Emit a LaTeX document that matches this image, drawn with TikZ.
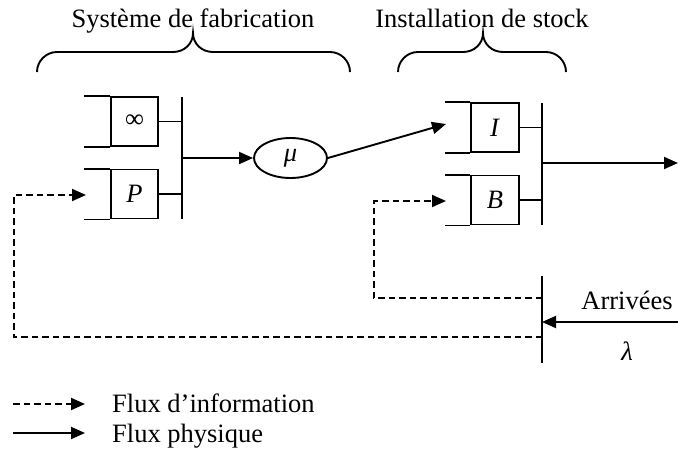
\documentclass[tikz,border=0pt]{standalone}
\usepackage{fontspec}
\setmainfont{Liberation Serif}
\usetikzlibrary{arrows.meta,shapes.geometric}
\begin{document}
\begin{tikzpicture}[x=1pt,y=-1pt,
  font=\fontsize{26.5}{30}\selectfont,
  ln/.style={line width=1.9pt},
  box/.style={draw,ln,minimum width=47pt,minimum height=49pt,inner sep=0pt},
  tip/.style={-{Triangle[length=14pt,width=12pt]}},
  info/.style={ln,dash pattern=on 6.5pt off 4pt},
  lbl/.style={anchor=base,inner sep=0pt}]
\useasboundingbox (0,0) rectangle (678,453);

% titles and braces
\node[lbl] (tfab) at (193,27) {Système de fabrication};
\node[lbl] (tsto) at (482,27) {Installation de stock};
\draw[ln] (37,72) .. controls (37,61) and (46,52) .. (57,52) -- (173,52)
  .. controls (184,52) and (193,44) .. (193,33)
  .. controls (193,44) and (202,52) .. (213,52) -- (330,52)
  .. controls (341,52) and (350,61) .. (350,72);
\draw[ln] (398,72) .. controls (398,61) and (407,52) .. (418,52) -- (463,52)
  .. controls (474,52) and (483,44) .. (483,33)
  .. controls (483,44) and (492,52) .. (503,52) -- (546,52)
  .. controls (557,52) and (566,61) .. (566,72);

% manufacturing queues
\node[box] (qinf) at (134.5,121.5) {∞};
\node[box] (qP) at (134.5,194) {\textit{P}};
\foreach \q in {qinf,qP}{
  \draw[ln] (\q.north west) -- ++(-26,0);
  \draw[ln] (\q.south west) -- ++(-26,0);
}
\coordinate (b1t) at (182,97);
\coordinate (b1b) at (182,218.5);
\coordinate (b1m) at (182,158);
\draw[ln] (b1t) -- (b1b);
\draw[ln] (qinf.east) -- (qinf.east -| b1t);
\draw[ln] (qP.east) -- (qP.east -| b1t);

\node[draw,ln,ellipse,minimum width=73pt,minimum height=40pt,inner sep=0pt] (mu) at (290.5,158) {\textit{μ}};
\draw[ln,tip] (b1m) -- (mu.west);

% stock queues
\node[box,minimum width=48pt] (qI) at (495,127.5) {\textit{I}};
\node[box,minimum width=48pt] (qB) at (495,200) {\textit{B}};
\foreach \q in {qI,qB}{
  \draw[ln] (\q.north west) -- ++(-25,0);
  \draw[ln] (\q.south west) -- ++(-25,0);
}
\coordinate (b2t) at (542,103);
\coordinate (b2b) at (542,224.5);
\coordinate (b2m) at (542,163);
\coordinate (out) at (678,163);
\draw[ln] (b2t) -- (b2b);
\draw[ln] (qI.east) -- (qI.east -| b2t);
\draw[ln] (qB.east) -- (qB.east -| b2t);
\draw[ln,tip] (b2m) -- (out);

\coordinate (Iin) at (446,124);
\draw[ln,tip] (mu.east) -- (Iin);

% arrivals
\coordinate (b3t) at (542,276);
\coordinate (b3b) at (542,363);
\coordinate (b3a) at (542,322);
\coordinate (arr) at (678,322);
\draw[ln] (b3t) -- (b3b);
\draw[ln,tip] (arr) -- (b3a);
\node[lbl] (tarr) at (627,309) {Arrivées};
\node[lbl] (tlam) at (627,360) {\textit{λ}};

% information flows
\coordinate (i1s) at (542,298);
\coordinate (i1c) at (374,298);
\coordinate (i1d) at (374,201);
\coordinate (Bin) at (446,201);
\draw[info,tip] (i1s) -- (i1c) -- (i1d) -- (Bin);
\coordinate (i2s) at (542,337);
\coordinate (i2c) at (14,337);
\coordinate (i2d) at (14,195);
\coordinate (Pin) at (86,195);
\draw[info,tip] (i2s) -- (i2c) -- (i2d) -- (Pin);

% legend
\coordinate (l1s) at (13,404);
\coordinate (l1e) at (85,404);
\coordinate (l2s) at (13,433);
\coordinate (l2e) at (85,433);
\draw[info,tip] (l1s) -- (l1e);
\draw[ln,tip] (l2s) -- (l2e);
\node[lbl,anchor=base west] (tinfo) at (112,412) {Flux d’information};
\node[lbl,anchor=base west] (tphys) at (112,442) {Flux physique};
\end{tikzpicture}
\end{document}
